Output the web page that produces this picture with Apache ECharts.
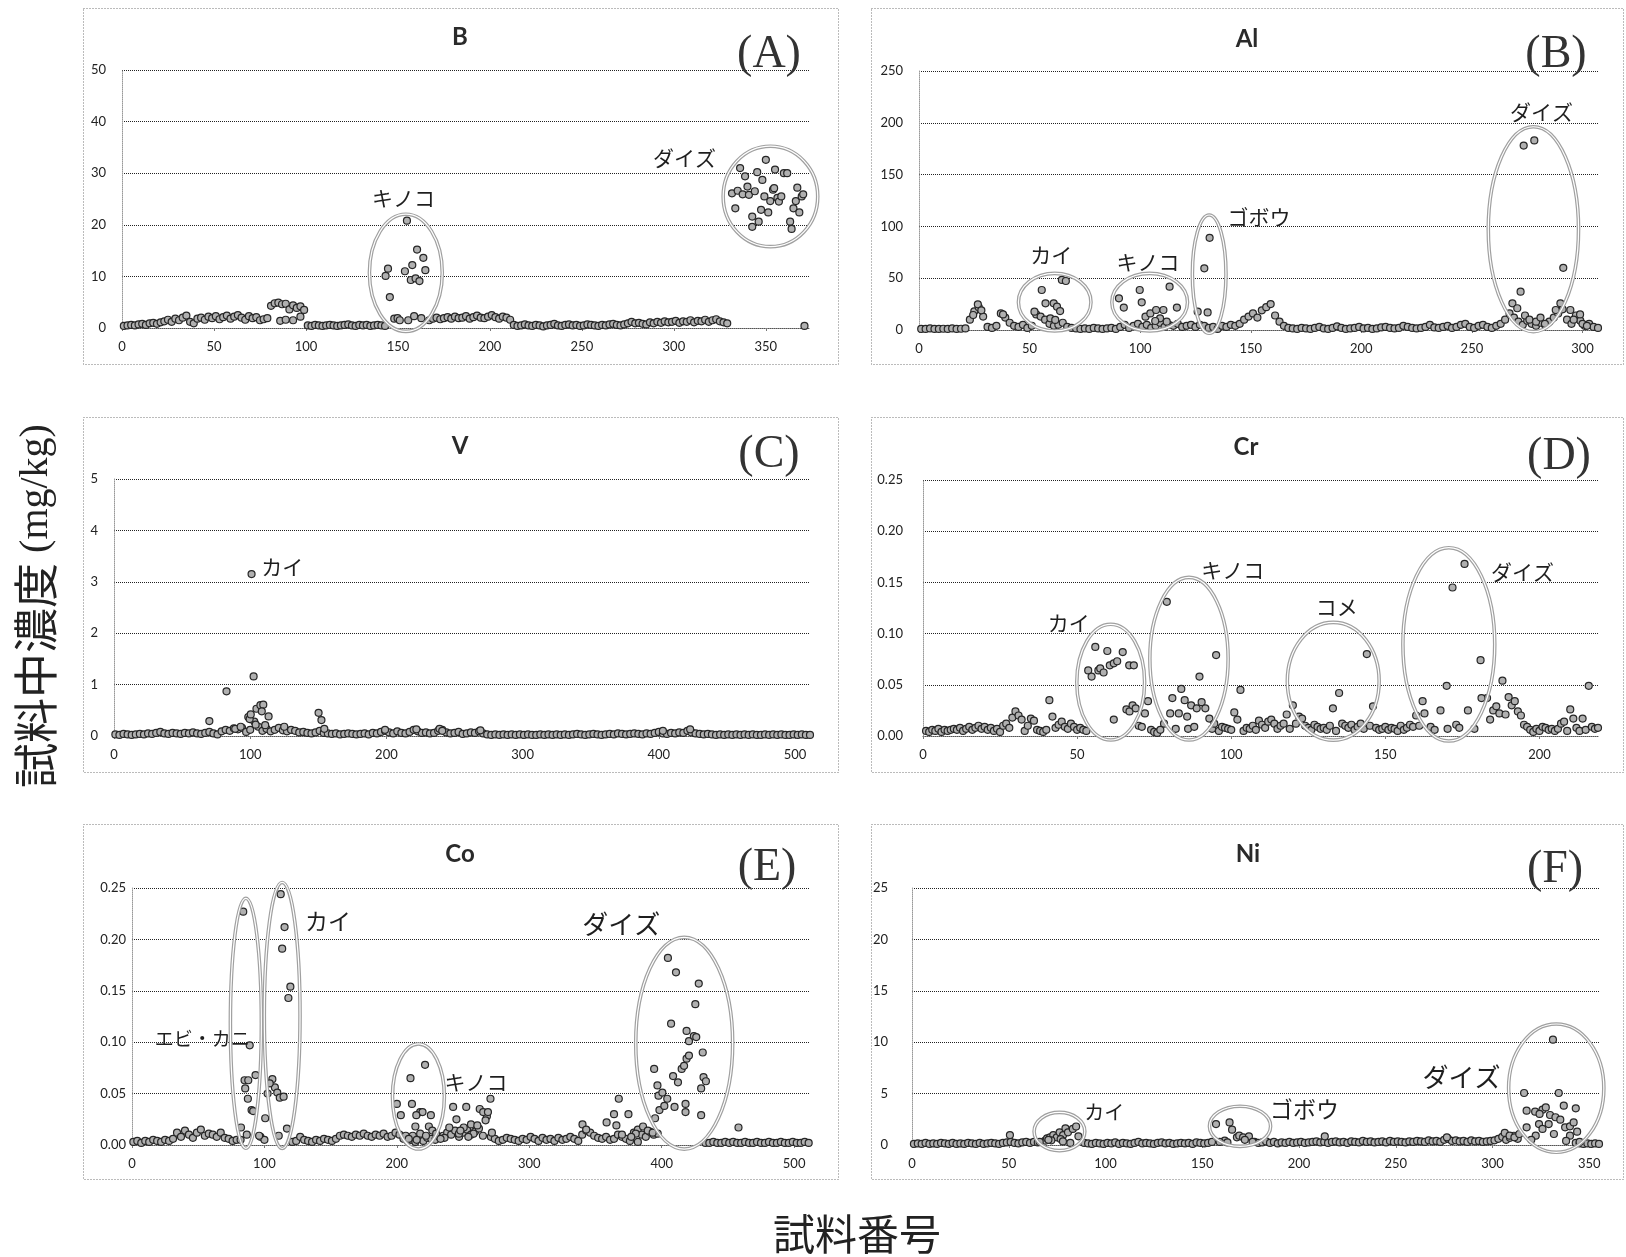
<!DOCTYPE html>
<html><head><meta charset="utf-8">
<script src="https://cdn.jsdelivr.net/npm/echarts@6/dist/echarts.min.js"></script>
<style>html,body{margin:0;padding:0;background:#fff}#c{width:1626px;height:1257px}</style>
</head><body><div id="c"></div><script>
// ---------- DATA (sample number vs concentration, mg/kg) ----------
const panelTitles = ['B','Al','V','Cr','Co','Ni'];
const panelLetters = ['(A)','(B)','(C)','(D)','(E)','(F)'];
const xTickStep = [50,50,100,50,100,50];
const yTickStep = [10,50,1,0.05,0.05,5];
const yMaxVal = [50,250,5,0.25,0.25,25];
const xMaxVal = [374,307,511,219,512,355];

// B : baseline samples 1,3,5,...,329
const B_base = [0.4,0.5,0.6,0.5,0.7,0.8,0.6,0.9,1.0,0.8,1.1,
 1.3,1.6,1.2,1.8,1.5,2.0,2.4,
 1.2,0.9,1.8,2.0,1.6,2.2,1.9,2.3,1.7,2.1,2.4,1.8,2.2,2.5,2.0,1.6,2.3,1.9,2.1,1.5,1.7,1.9,
 4.3,4.8,4.9,4.6,4.7,3.6,4.4,3.9,4.2,3.5,
 0.5,0.4,0.6,0.5,0.4,0.5,0.6,0.5,0.4,0.5,0.6,0.7,0.5,0.4,0.6,0.5,0.6,0.4,0.5,0.6,0.5,0.4,
 null,null,null,null,null,null,null,null,null,null,null,
 1.5,1.8,2.0,1.7,1.9,2.1,1.8,2.2,1.9,2.0,2.3,1.8,2.1,2.4,2.0,1.9,2.2,2.5,2.1,1.8,2.2,2.0,1.6,
 0.6,0.4,0.5,0.7,0.5,0.4,0.6,0.5,0.3,0.5,0.6,0.8,0.5,0.4,0.6,0.7,0.5,0.6,0.4,0.5,0.7,0.6,0.5,0.4,0.6,0.5,0.7,0.8,0.6,0.5,0.7,0.9,
 1.2,0.9,1.0,0.8,0.7,1.1,0.9,1.2,1.0,1.3,1.1,1.2,1.4,1.0,1.3,1.2,1.5,1.1,1.4,1.3,1.6,1.2,1.5,1.7,1.3,1.1,0.9];
const B_peaks = [[143.3,10.1],[144.6,11.5],[145.6,6.0],[153.8,11.0],[154.9,20.8],[157.8,12.2],[157,9.3],[160.4,15.2],[159.6,9.6],[161.7,9.1],[163.8,13.6],[164.9,11.2],
 [148,1.8],[149.8,1.9],[151,1.5],[155.6,1.5],[158.8,2.3],[162.7,1.9],[86,1.4],[89,1.6],[93,1.5],[97,2.2],
 [331.6,26.1],[333.4,23.2],[334.7,26.6],[336,31],[337.4,25.9],[338.7,29.4],[340,27.4],[340.8,25.8],[342.6,21.6],[342.6,19.6],[344,26.5],[345.3,30.2],[346.1,20.6],[347.4,22.9],[348.1,28.7],[349.2,25.5],[350,32.6],[351.3,22.4],[352.4,24.6],[353.9,26.8],[354.5,27.1],[355,30.7],[356.3,25.2],[357.1,24.5],[358.4,25.5],[359.8,30],[361.6,30],[363.2,20.6],[364,19.2],[365,23.2],[366.3,24.6],[367.1,27.2],[368.2,22.4],[369.5,25.5],[370.3,25.9],[371,0.4]];

// Al : baseline samples 1,3,...,307
const Al_base = [1,1,1.5,1,1,1.2,1,1.5,1,1.2,1.5,
 10,18,22,13, 3,2,4, 16,12,7, 4,3,5,2,4,
 15,13,10,6,4,5,7,3,
 2,1.5,1,1.5,1,2,1.5,1,1.5,2,1,
 3,5,2,4,6,3,5,2,4,7,3,5,4,6,3,4,5,3,
 5,4,2,3,1,4, 3,5,4,6,10,13, 16,12,19,22,25,14,8,4,
 2,1.5,1,2,1.5,1,2,3,1.5,1,2,3.5,2,1,1.5,2,3,1.5,2,1,1.5,2.5,3,2,1.5,2,4,3,2,1.5,2,3,5,2.5,2,3,4,2,3,5,6,3,2,4,5,3,2,4,6,
 10,16,12,8,5,9,6,4,7,5,
 8,12,16,20,10,6,14,9,4,6,3,2];
const Al_peaks = [[24.5,14.5],[26.6,24.8],[28.2,19],[38,15],
 [55.5,38.6],[57.2,25.7],[52.2,17.7],[60.9,25.7],[62.4,22.5],[63.8,18.3],[64.6,48.3],[66.4,47.3],[59.4,11.3],[61.6,9.7],
 [90.4,30.6],[92.6,21.6],[99.8,38.6],[100.7,26.7],[113.3,41.8],[102.4,12.9],[104.6,16],[107.2,19.3],[110.5,19.3],[109,11.3],[106.8,8.7],[116.6,21.6],[112,8],
 [131.4,89],[129,59.5],[130.5,17],[126,17.7],
 [273.4,178],[278.2,183],[272,37],[291.3,60],[268.3,25.7],[270.5,21],[274,14],[276,10],[279,8],[281,12],[283,6],[287.9,19.3],[290,25.7],[294.5,19.3],[298.9,15],[296,10],[300,6],[302,4]];

// V : baseline samples 1,4,7,...,511
const V_base = [.03,.02,.04,.03,.02,.03,.04,.03,.05,.04,
 .06,.08,.05,.04,.06,.05,.04,.06,.05,.07,
 .05,.04,.06,.08,.05,.03,.09,.12,.10,.15,
 .13,.16,.08,.12,.28,.18,.10,.14,.09,.12,
 .16,.11,.09,.12,.10,.07,.08,.06,.05,.07,
 .10,.06,.05,.04,.05,.03,.04,.05,.04,.03,
 .04,.05,.03,.06,.05,.08,.10,.07,.05,.09,
 .06,.05,.08,.12,.09,.06,.07,.05,.06,.10,
 .12,.07,.05,.06,.08,.04,.05,.07,.06,.09,
 .05,.03,.02,.03,.02,.03,.02,.03,.02,.03,
 .02,.03,.02,.02,.03,.02,.03,.02,.03,.02,
 .03,.02,.03,.04,.03,.02,.03,.04,.03,.02,
 .03,.04,.03,.05,.04,.03,.04,.05,.04,.03,
 .05,.04,.06,.08,.05,.04,.06,.05,.07,.06,
 .10,.07,.05,.04,.03,.04,.03,.02,.03,.02,
 .03,.02,.03,.02,.03,.02,.03,.02,.02,.03,
 .02,.03,.02,.03,.02,.02,.03,.02,.03,.02,
 .02];
const V_peaks = [[70,.29],[82.6,.87],[101,3.15],[102.5,1.16],[98.6,.37],[99.6,.33],[100.4,.42],[104.6,.53],[107.5,.6],[109.6,.61],[108.5,.48],[113.5,.38],[104,.22],[111,.21],[89,.14],[93,.18],[150.2,.45],[152.3,.31],[154.4,.14],[125,.18],[199,.12],[222,.13],[239,.14],[241,.1],[269,.11],[403,.1],[423,.13]];

// Cr : samples 1..219
const Cr_base = [.005,.004,.006,.005,.007,.004,.006,.005,.006,.007,
 .006,.008,.005,.007,.009,.006,.008,.010,.007,.009,
 .006,.008,.005,.007,.004,.010,.012,.008,.018,.024,
 .020,.016,.005,.010,.017,.015,.006,.005,.004,.006,
 .035,.019,.008,.011,.014,.009,.007,.012,.009,.006,
 .008,.006,.005,null,null,null,null,null,null,null,
 null,null,null,null,null,.026,.024,.030,.027,.010,
 .009,.022,.034,.006,.004,.003,null,null,null,null,
 null,null,null,null,null,null,null,null,null,null,
 null,null,null,null,null,.005,.009,.008,.007,.006,
 .023,.016,.045,.005,.008,.007,.010,.006,.015,.011,
 .008,.014,.016,.012,.007,.010,.012,.021,.007,.030,
 .012,.019,.017,.010,.008,.006,.011,.009,.007,.008,
 .006,.010,.027,.005,.042,.012,.010,.008,.011,.006,
 .009,.012,.007,.080,.010,.029,.008,.006,.007,.009,
 .006,.008,.007,.005,.010,.006,.008,.011,.009,.020,
 null,null,null,null,null,null,null,null,null,null,
 null,null,null,null,null,null,null,null,null,null,
 null,null,.037,.016,.025,.029,.022,.054,.021,.038,
 .030,.034,.024,.020,.011,.009,.006,.004,.007,.005,
 .009,.008,.006,.007,.005,.007,.012,.014,.005,.026,
 .017,.008,.005,.017,.006,.049,.009,.007,.008];
const Cr_peaks = [[53.6,.064],[54.7,.058],[55.9,.087],[56.9,.064],[57.5,.066],[58.6,.062],[59.8,.083],[60.6,.069],[61.9,.071],[63,.073],[64.8,.082],[66.9,.069],[68.4,.069],[61.9,.016],
 [79.1,.131],[95.1,.079],[89.7,.058],[83.8,.046],[80.9,.037],[84.9,.035],[80.2,.022],[83,.022],[85.7,.019],[87,.030],[88.8,.027],[90.4,.033],[91.6,.027],[92.9,.017],[78.2,.012],[82,.007],[86,.007],[88,.009],[93.8,.007],[77,.006],[94.5,.012],
 [162.1,.034],[162.7,.022],[167.9,.025],[169.9,.049],[171.8,.145],[175.7,.168],[180.9,.074],[181.2,.037],[176.8,.025],[164.7,.009],[170.2,.007],[173,.011],[174,.008],[178.9,.007],[166,.006],[161,.010]];

// Co : baseline samples 1,4,...,511
const Co_base = [.003,.004,.002,.004,.003,.005,.004,.003,.005,.004,
 .006,.012,.008,.014,.010,.007,.012,.015,.009,.011,
 .010,.008,.012,.007,.006,.004,.005,.005,null,null,
 null,null,.008,.005,null,null,null,null,null,null,
 .003,.004,.008,.005,.004,.003,.005,.004,.006,.005,
 .004,.006,.009,.010,.009,.008,.010,.009,.011,.009,
 .008,.010,.009,.011,.008,.009,.012,.010,.006,.004,
 .005,.003,.006,.004,.007,.006,.005,.008,.009,.012,
 .010,.014,.008,.012,.015,.010,.013,.016,.009,.028,
 .008,.006,.004,.005,.007,.006,.005,.004,.006,.005,
 .008,.006,.004,.007,.005,.006,.004,.007,.005,.006,
 .008,.006,.004,.010,.014,.012,.009,.007,.006,.008,
 .005,.006,.010,.008,.006,.004,.012,.015,.010,.008,
 .013,.010,.011,null,null,null,null,null,null,null,
 null,null,null,null,.002,.002,.003,.002,.002,.003,
 .002,.003,.002,.002,.003,.002,.002,.003,.002,.002,
 .003,.002,.002,.003,.002,.002,.003,.002,.002,.003,
 .002];
const Co_peaks = [[84,.227],[85,.063],[87.8,.063],[85.5,.055],[87.5,.045],[90.3,.034],[91.5,.033],[88.9,.097],[86.7,.010],[82.3,.017],[96,.009],[93.3,.068],
 [112.3,.244],[115.2,.212],[113.4,.191],[119.6,.154],[118.1,.143],[100.6,.026],[106,.064],[107.9,.056],[109.7,.051],[111.6,.046],[114.5,.047],[102.4,.050],[110.8,.009],[117,.016],[104,.060],
 [200,.040],[203,.029],[210.3,.065],[211.4,.040],[221.3,.078],[217.6,.032],[219.4,.032],[214.7,.029],[225.7,.029],[214,.018],[224.2,.018],[206.7,.009],[212,.009],[217.6,.011],[222,.009],[226.8,.014],[229.7,.011],[209,.006],[215,.005],
 [242.5,.037],[245,.025],[252.4,.037],[239.6,.017],[250.5,.017],[256,.020],[257.9,.011],[262.6,.035],[265.2,.032],[268.8,.032],[270.7,.045],[267,.024],[260.8,.019],[246.9,.011],[236,.007],[271.8,.012],[233,.006],[248,.014],[254,.008],
 [340.2,.020],[343,.015],[358.4,.022],[364,.030],[367.6,.045],[365.8,.019],[374.9,.030],[380.4,.011],[385.9,.018],[389.5,.014],[382,.003],[393.2,.012],[395,.026],[370,.010],[377,.008],
 [394.3,.074],[396.8,.058],[397.6,.048],[400.5,.051],[404.2,.045],[398.3,.034],[402,.038],[404.7,.182],[407.1,.118],[410.8,.168],[408.6,.067],[412.3,.061],[415.1,.074],[416.9,.077],[418.8,.084],[420.6,.087],[418.8,.111],[420.6,.101],[424.3,.106],[426.1,.105],[425.4,.137],[428,.157],[431,.090],[431.6,.066],[433.4,.062],[429.8,.055],[418,.040],[418,.032],[409.7,.037],[429.8,.029],
 [458,.017]];

// Ni : baseline samples 1,3,...,355
const Ni_base = [.1,.15,.1,.2,.1,.15,.1,.2,.15,.1,
 .2,.1,.15,.1,.2,.15,.1,.2,.1,.15,
 .2,.15,.1,.2,.25,.3,.2,.15,.25,.3,
 .2,.3,.25,null,null,null,null,null,null,null,
 null,null,null,null,.2,.15,.1,.2,.15,.1,
 .2,.15,.25,.1,.2,.15,.1,.2,.3,.15,
 .2,.15,.1,.2,.25,.15,.2,.1,.15,.2,
 .15,.2,.1,.25,.2,.15,.2,.3,null,null,
 null,null,null,null,null,null,null,null,.3,.2,
 .25,.35,.2,.3,.15,.25,.2,.3,.2,.25,
 .3,.2,.25,.3,.35,.25,.3,.2,.3,.35,
 .25,.3,.2,.35,.3,.25,.4,.3,.35,.25,
 .3,.35,.25,.4,.3,.35,.3,.25,.35,.3,
 .4,.35,.3,.45,.35,.4,.3,.5,.6,.4,
 .45,.35,.4,.3,.45,.35,.4,.3,.35,.4,
 .45,.6,.8,.5,.7,.9,.6,null,null,null,
 null,null,null,null,null,null,null,null,null,null,
 null,.2,.15,.1,.15,.1,.15,.1];
const Ni_peaks = [[50.6,.97],
 [68.8,.42],[69.8,.65],[71.3,.75],[73,.97],[74.8,.75],[76.3,1.23],[78.1,.97],[79.3,1.62],[80.6,1.23],[81.8,.2],[83.1,1.56],[84.8,1.8],[86,.84],[76.8,.58],[72,.45],[78,.35],[66,.3],[70.5,.5],
 [157.1,2.04],[164.1,2.2],[165.4,1.49],[161.6,.42],[167.9,.75],[169.1,.91],[171.1,.75],[174.1,.84],[163,.25],[159,.3],[172,.5],[176,.3],
 [213.3,.84],[276.4,.75],[306.3,1.17],[308.8,.91],[311.3,.75],
 [331.2,10.25],[316.3,5.06],[334.2,5.06],[317.6,3.34],[322,3.24],[325.8,3.44],[327.5,3.66],[324.3,3.02],[329.7,2.92],[336.8,3.83],[343,3.57],[317.6,1.72],[324,2.04],[329,2.04],[332.5,2.7],[335,2.46],[337.5,1.72],[340,1.82],[341.9,2.2],[325.8,1.56],[322.3,.91],[331.7,1.07],[340,.91],[343.7,1.3],[313.8,1.07],[320,.5],[338,.4],[345,.3]];

const baseStep = [2,2,3,1,3,2];
const baseList = [B_base, Al_base, V_base, Cr_base, Co_base, Ni_base];
const peakList = [B_peaks, Al_peaks, V_peaks, Cr_peaks, Co_peaks, Ni_peaks];

// annotation ellipses: [panel, centerX, centerY, radiusX, radiusY] in data units
const groupEllipses = [
 [0,154.3,10.7,19.8,11.35],[0,352.5,25.5,25.7,9.73],
 [1,61.35,26.9,16.4,27.8],[1,104.3,26.9,17.1,27.8],[1,131.2,53.9,7.6,57.1],[1,277.8,97.3,20.4,98.9],
 [3,60.9,.0526,11,.0565],[3,86.3,.0755,12.7,.0794],[3,133.1,.0535,14.9,.0575],[3,170.6,.0895,14.9,.0944],
 [4,86,.1184,11.7,.1216],[4,113.4,.126,13.5,.1294],[4,216.3,.0472,19.6,.0511],[4,417,.099,36.6,.103],
 [5,76.2,1.31,13.1,1.86],[5,169.5,1.82,15.8,1.95],[5,332.9,5.53,24.6,6.24]
];
// annotation labels: [panel, x, y, text]
const groupLabels = [
 [0,153,25.2,'キノコ'],[0,305.8,32.9,'ダイズ'],
 [1,59.8,72.4,'カイ'],[1,103.5,66,'キノコ'],[1,153.7,109.4,'ゴボウ'],[1,281.4,210.7,'ダイズ'],
 [2,123.5,3.28,'カイ'],
 [3,47.3,.110,'カイ'],[3,100.5,.162,'キノコ'],[3,134.2,.126,'コメ'],[3,194.5,.160,'ダイズ'],
 [4,53,.103,'エビ・カニ'],[4,148,.218,'カイ'],[4,259.7,.0616,'キノコ'],[4,369.4,.215,'ダイズ'],
 [5,99.3,3.18,'カイ'],[5,202.8,3.5,'ゴボウ'],[5,283.9,6.58,'ダイズ']
];

// ---------- LAYOUT ----------
const grids = [
 {left:122, top:70, width:688, height:258},
 {left:919, top:71, width:679, height:259},
 {left:114, top:479, width:696, height:257},
 {left:923, top:480, width:675, height:256},
 {left:132, top:888, width:678, height:257},
 {left:912, top:888, width:687, height:257}
];
const yLabelMargin = [16,16,16,20,6,24];
const labelSize = [21,21,21,21,[19,23,21,26],[20,23,26]];
const boxes = [[83,8,755,356],[871,8,752,356],[83,417,755,355],[871,417,752,355],[83,824,755,355],[871,824,752,355]];
const titlePos = [[460,37],[1247,39],[460,446],[1246,447],[460,854],[1248,854]];
const letterPos = [[769,55],[1556,55],[769,455],[1559,457],[767,868],[1555,870]];

const xAxes = [], yAxes = [], series = [];
for (let i = 0; i < 6; i++) {
  xAxes.push({type:'value', gridIndex:i, min:0, max:xMaxVal[i], interval:xTickStep[i],
    axisLine:{show:true, lineStyle:{color:'#555', type:'dotted'}},
    axisTick:{show:true, length:3, lineStyle:{color:'#777'}},
    splitLine:{show:false},
    axisLabel:{showMaxLabel:false, margin:12, fontSize:13, fontFamily:'Lato', color:'#222'}});
  const dec = i===3||i===4 ? 2 : 0;
  yAxes.push({type:'value', gridIndex:i, min:0, max:yMaxVal[i], interval:yTickStep[i],
    axisLine:{show:true, lineStyle:{color:'#999', type:'dotted'}},
    axisTick:{show:false},
    splitLine:{show:true, lineStyle:{color:'#222', type:'dotted', width:1}},
    axisLabel:{margin:yLabelMargin[i], fontSize:13, fontFamily:'Lato', color:'#222',
      formatter: v => v.toFixed(dec)}});
  const pts = [];
  baseList[i].forEach((v, k) => { if (v !== null) pts.push([1 + k*baseStep[i], v]); });
  peakList[i].forEach(p => pts.push(p));
  series.push({type:'scatter', xAxisIndex:i, yAxisIndex:i, data:pts, symbol:'circle', symbolSize:7,
    itemStyle:{color:'#b0b0b0', borderColor:'#262626', borderWidth:1.2, opacity:1}, silent:true});
}

const chart = echarts.init(document.getElementById('c'));
chart.setOption({animation:false, backgroundColor:'#fff',
  grid:grids.map(g => Object.assign({containLabel:false}, g)),
  xAxis:xAxes, yAxis:yAxes, series:series});

const els = [];
boxes.forEach(b => els.push({type:'rect', shape:{x:b[0]+0.5, y:b[1]+0.5, width:b[2], height:b[3]},
  style:{fill:'transparent', stroke:'#777', lineWidth:1, lineDash:[1,2]}, silent:true, z:1}));
titlePos.forEach((p, i) => els.push({type:'text', x:p[0], y:p[1],
  style:{text:panelTitles[i], fontSize:24, fontWeight:'bold', fontFamily:'Lato', fill:'#2a2a2a', align:'center', verticalAlign:'middle'}, silent:true}));
letterPos.forEach((p, i) => els.push({type:'text', x:p[0], y:p[1],
  style:{text:panelLetters[i], fontSize:46, fontFamily:'Liberation Serif', fill:'#333', align:'center', verticalAlign:'middle'}, silent:true}));
groupEllipses.forEach(e => {
  const c = chart.convertToPixel({gridIndex:e[0]}, [e[1], e[2]]);
  const r = chart.convertToPixel({gridIndex:e[0]}, [e[1]+e[3], e[2]+e[4]]);
  const shape = {cx:c[0], cy:c[1], rx:Math.abs(r[0]-c[0]), ry:Math.abs(r[1]-c[1])};
  els.push({type:'ellipse', shape:shape, style:{fill:'transparent', stroke:'#a0a0a0', lineWidth:3.6}, silent:true, z:20});
  els.push({type:'ellipse', shape:Object.assign({}, shape), style:{fill:'transparent', stroke:'#ffffff', lineWidth:1.2}, silent:true, z:21});
});
const lblCount = [0,0,0,0,0,0];
groupLabels.forEach(l => {
  const p = chart.convertToPixel({gridIndex:l[0]}, [l[1], l[2]]);
  const s = labelSize[l[0]];
  const fs = Array.isArray(s) ? s[lblCount[l[0]]] : s;
  lblCount[l[0]]++;
  els.push({type:'text', x:p[0], y:p[1], z:30,
    style:{text:l[3], fontSize:fs, fontFamily:'"Noto Sans CJK JP"', fill:'#1e1e1e', align:'center', verticalAlign:'middle'}, silent:true});
});
els.push({type:'text', x:36, y:606, rotation:Math.PI/2, z:30,
  style:{text:'{a|試料中濃度}{b| (mg/kg)}', align:'center', verticalAlign:'middle',
    rich:{a:{fontSize:45, fontFamily:'"Noto Sans CJK JP"', fill:'#222'}, b:{fontSize:40, fontFamily:'Liberation Serif', fill:'#222'}}}, silent:true});
els.push({type:'text', x:857, y:1234, z:30,
  style:{text:'試料番号', fontSize:42, fontFamily:'"Noto Sans CJK JP"', fill:'#222', align:'center', verticalAlign:'middle'}, silent:true});
chart.setOption({graphic:{elements:els}});
</script></body></html>
